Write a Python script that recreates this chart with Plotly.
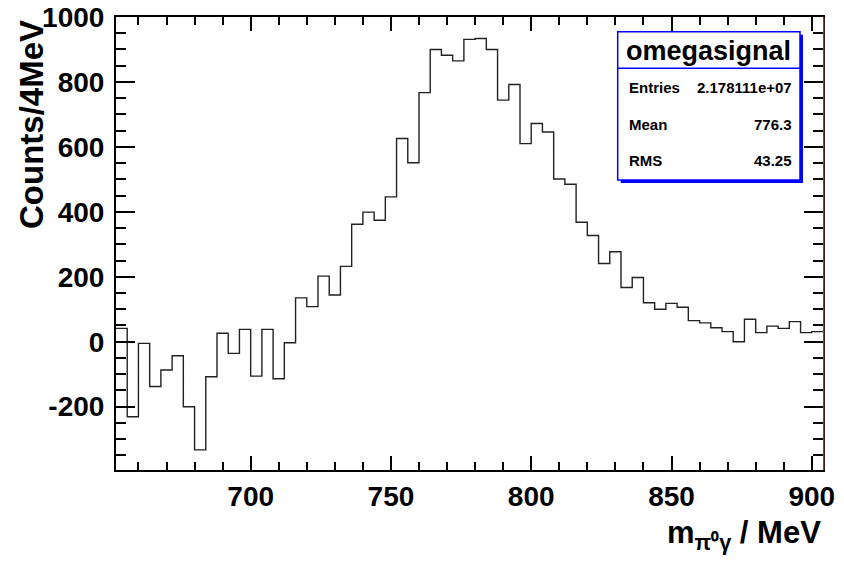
import plotly.graph_objects as go

# ---- data ----
bin_start = 652.0      # MeV, low edge of first bin
bin_width = 4.0        # MeV
counts = [41, -231, -5, -138, -87, -43, -200, -333, -108, 26,
          -36, 38, -106, 38, -114, -3, 135, 108, 202, 144,
          232, 362, 399, 374, 446, 626, 551, 767, 900, 882,
          865, 931, 934, 900, 744, 792, 610, 672, 646, 501,
          485, 368, 327, 241, 277, 167, 198, 120, 100, 118,
          106, 65, 58, 43, 31, 0, 69, 28, 48, 41,
          62, 28, 31]
x_tickvals = [700, 750, 800, 850, 900]
x_ticktext = ["700", "750", "800", "850", "900"]
y_tickvals = [-200, 0, 200, 400, 600, 800, 1000]
y_ticktext = ["-200", "0", "200", "400", "600", "800", "1000"]
stats_title = "omegasignal"
stats_labels = ["Entries", "Mean", "RMS"]
stats_values = ["2.178111e+07", "776.3", "43.25"]

# ---- figure ----
W, H = 844, 561
ML, MR, MT, MB = 116, 21, 17, 91
PW, PH = W - ML - MR, H - MT - MB

edges = [bin_start + i * bin_width for i in range(len(counts) + 1)]
yvals = counts + [counts[-1]]

FONT = "Liberation Sans, Arial, Helvetica, sans-serif"

fig = go.Figure()
fig.add_trace(go.Scatter(x=edges, y=yvals, mode="lines", line_shape="hv",
                         line=dict(color="#222222", width=1.4),
                         hoverinfo="skip", showlegend=False))

def px(xpix):
    return (xpix - ML) / PW

def py(ypix):
    return (H - MB - ypix) / PH

shapes = []
# right-edge thin red line (as in reference)
shapes.append(dict(type="line", xref="paper", yref="paper",
                   x0=px(823.8), x1=px(823.8), y0=0, y1=1,
                   line=dict(color="#e05050", width=1)))
# stats box shadow
bx0, by0, bx1, by1 = 617.7, 31.7, 800.0, 180.0
shapes.append(dict(type="rect", xref="paper", yref="paper",
                   x0=px(bx0 + 3), x1=px(bx1 + 3), y0=py(by1 + 3), y1=py(by0 + 3),
                   fillcolor="#0000ff", line=dict(width=0)))
shapes.append(dict(type="rect", xref="paper", yref="paper",
                   x0=px(bx0), x1=px(bx1), y0=py(by1), y1=py(by0),
                   fillcolor="white", line=dict(color="#0000ff", width=1.5)))
shapes.append(dict(type="line", xref="paper", yref="paper",
                   x0=px(bx0), x1=px(bx1), y0=py(68.3), y1=py(68.3),
                   line=dict(color="#0000ff", width=1.5)))

ann = []
ann.append(dict(text=stats_title, xref="paper", yref="paper",
                x=px((bx0 + bx1) / 2), y=py(51.0), xanchor="center", yanchor="middle",
                showarrow=False, font=dict(family=FONT, size=27, color="black", weight="bold")))
row_y = [87.0, 124.0, 160.7]
for lab, val, ry in zip(stats_labels, stats_values, row_y):
    ann.append(dict(text=lab, xref="paper", yref="paper", x=px(627.0), y=py(ry),
                    xanchor="left", yanchor="middle", showarrow=False,
                    font=dict(family=FONT, size=15, color="black", weight="bold")))
    ann.append(dict(text=val, xref="paper", yref="paper", x=px(793.5), y=py(ry),
                    xanchor="right", yanchor="middle", showarrow=False,
                    font=dict(family=FONT, size=15, color="black", weight="bold")))
# axis titles
ann.append(dict(text="Counts/4MeV", xref="paper", yref="paper", x=px(31), y=py(125),
                xanchor="center", yanchor="middle", textangle=-90, showarrow=False,
                font=dict(family=FONT, size=33, color="black", weight="bold")))
ann.append(dict(text="m<sub>π⁰γ</sub> / MeV", xref="paper", yref="paper", x=px(823), y=py(535),
                xanchor="right", yanchor="middle", showarrow=False,
                font=dict(family=FONT, size=31, color="black", weight="bold")))

fig.update_layout(
    width=W, height=H,
    margin=dict(l=ML, r=MR, t=MT, b=MB, pad=0, autoexpand=False),
    paper_bgcolor="white", plot_bgcolor="white",
    shapes=shapes, annotations=ann,
    xaxis=dict(range=[bin_start, bin_start + bin_width * len(counts)],
               automargin=False,
               tickvals=x_tickvals, ticktext=x_ticktext,
               ticks="inside", ticklen=14, tickwidth=2,
               tickcolor="black", showline=True, linecolor="black", linewidth=2,
               mirror="ticks", showgrid=False, zeroline=False,
               ticklabelstandoff=0,
               tickfont=dict(family=FONT, size=28, color="black", weight="bold"),
               minor=dict(dtick=10, ticks="inside", ticklen=8, tickwidth=2,
                          tickcolor="black", showgrid=False)),
    yaxis=dict(range=[-395, 1000],
               automargin=False,
               tickvals=y_tickvals, ticktext=y_ticktext,
               ticks="inside", ticklen=19, tickwidth=2,
               tickcolor="black", showline=True, linecolor="black", linewidth=2,
               mirror="ticks", showgrid=False, zeroline=False,
               ticklabelstandoff=4,
               tickfont=dict(family=FONT, size=28, color="black", weight="bold"),
               minor=dict(dtick=50, tick0=0, ticks="inside", ticklen=10, tickwidth=2,
                          tickcolor="black", showgrid=False)),
)

fig.write_html("out.html", config={"displayModeBar": False},
               post_script="document.body.style.margin='0';document.body.style.padding='0';")
